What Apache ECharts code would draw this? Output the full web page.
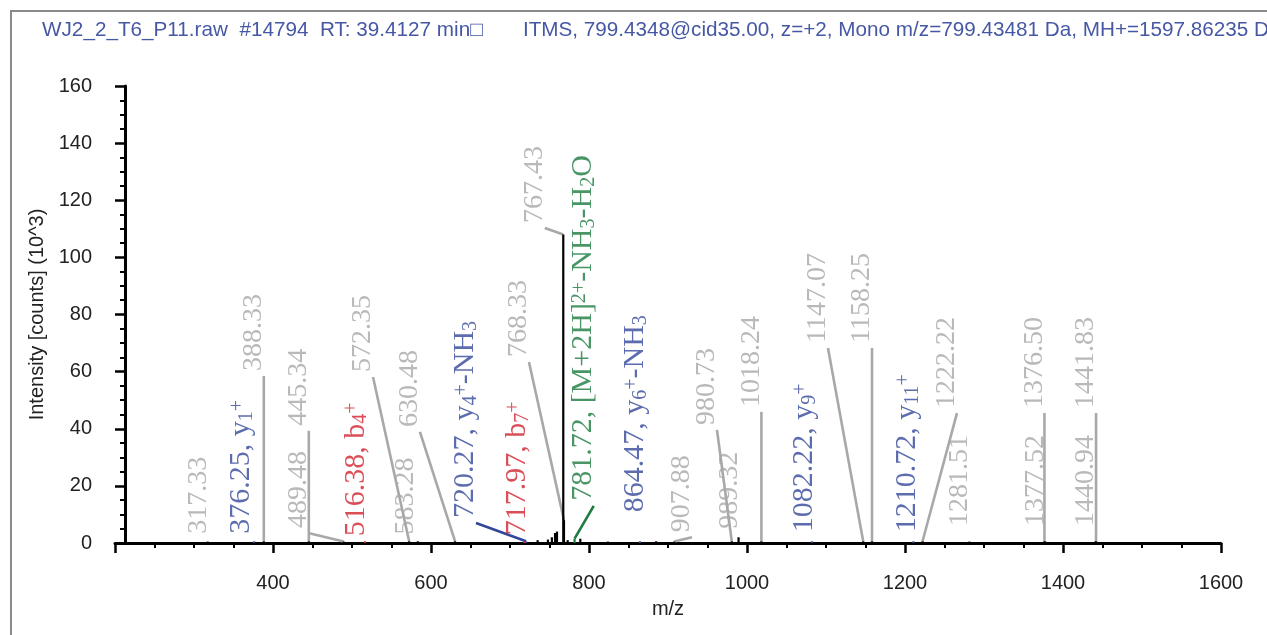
<!DOCTYPE html>
<html>
<head>
<meta charset="utf-8">
<script src="https://cdn.jsdelivr.net/npm/echarts@6/dist/echarts.min.js"></script>
<style>
html,body{margin:0;padding:0;background:#fff;}
#chart{width:1267px;height:635px;}
</style>
</head>
<body>
<div id="chart"></div>
<script>
// ---------- data ----------
const titleText = 'WJ2_2_T6_P11.raw  #14794  RT: 39.4127 min\u25A1       ITMS, 799.4348@cid35.00, z=+2, Mono m/z=799.43481 Da, MH+=1597.86235 Da';
const xAxisTitle = 'm/z';
const yAxisTitle = 'Intensity [counts] (10^3)';

// unlabelled stick peaks (m/z, intensity x10^3)
const otherPeakMz  = [735.0, 748.0, 753.0, 757.0, 759.5, 773.0, 789.0, 824.0, 885.0];
const otherPeakInt = [1.0,   1.2,   2.0,   3.5,   4.0,   1.0,   1.5,   0.5,   0.6];

// annotated peaks
const annText = [
  '317.33',
  '376.25, y{sub|1}{sup|+}',
  '388.33',
  '445.34',
  '489.48',
  '516.38, b{sub|4}{sup|+}',
  '572.35',
  '583.28',
  '630.48',
  '720.27, y{sub|4}{sup|+}-NH{sub|3}',
  '717.97, b{sub|7}{sup|+}',
  '768.33',
  '767.43',
  '781.72, [M+2H]{sup|2+}-NH{sub|3}-H{sub|2}O',
  '864.47, y{sub|6}{sup|+}-NH{sub|3}',
  '907.88',
  '980.73',
  '989.32',
  '1018.24',
  '1082.22, y{sub|9}{sup|+}',
  '1147.07',
  '1158.25',
  '1210.72, y{sub|11}{sup|+}',
  '1222.22',
  '1281.51',
  '1376.50',
  '1377.52',
  '1441.83',
  '1440.94'
];
const annType = ['n','y','n','n','n','b','n','n','n','y','b','n','n','M','y','n','n','n','n','y','n','n','y','n','n','n','n','n','n'];
const annPeakMz  = [317.33, 376.25, 388.33, 445.34, 489.48, 516.38, 572.35, 583.28, 630.48, 720.27, 717.97, 768.33, 767.43, 781.72, 864.47, 907.88, 980.73, 989.32, 1018.24, 1082.22, 1147.07, 1158.25, 1210.72, 1222.22, 1281.51, 1376.50, 1377.52, 1441.83, 1440.94];
const annPeakInt = [0.5,    0.6,    0.6,    0.6,    0.5,    0.6,    0.6,    0.6,    0.6,    0.6,    0.6,    8.0,    108.0,  1.5,    0.6,    0.5,    0.6,    2.0,    0.6,     0.6,     0.6,     0.6,     0.6,     0.6,     0.5,     0.6,     0.5,     0.6,     0.5];
const annLabelMz  = [319.0, 373.0, 388.33, 445.34, 444.5, 518.0, 526.6, 580.0, 586.0, 657.0, 722.0, 724.0, 744.0, 806.0, 872.0, 930.4, 962.0, 991.0, 1018.24, 1086.0, 1102.5, 1158.25, 1216.5, 1265.8, 1282.3, 1376.50, 1377.52, 1441.83, 1440.94];
const annLabelInt = [1.5,   1.5,   58.5,   39.3,   3.5,   0.6,   58.1,  1.2,   38.9,  7.0,   1.0,   63.4,  110.3, 13.0,  9.0,   2.0,   39.6,  3.2,   45.9,    2.0,    68.3,   68.3,    2.0,    45.5,   4.2,    45.5,    4.2,     45.5,    4.2];
const annLeader = [false,false,true,true,true,false,true,false,true,true,false,true,true,true,false,true,true,false,true,false,true,true,false,true,false,true,false,true,false];

// ---------- styles ----------
const typeColor = { n: '#a8a8a8', y: '#33479a', b: '#d2222e', M: '#1c7b3f' };
const peakColor = { n: '#000000', y: '#33479a', b: '#d2222e', M: '#1c7b3f' };
const labelFont = '"Liberation Serif", "Times New Roman", serif';
const sansFont = '"Liberation Sans", Arial, sans-serif';

const sticks = [];
otherPeakMz.forEach((m, i) => sticks.push([m, otherPeakInt[i], '#000000']));
annPeakMz.forEach((m, i) => sticks.push([m, annPeakInt[i], peakColor[annType[i]]]));

const leaders = [];
annPeakMz.forEach((m, i) => {
  if (annLeader[i]) leaders.push([m, annPeakInt[i], annLabelMz[i], annLabelInt[i], typeColor[annType[i]]]);
});

const labelData = annText.map((t, i) => {
  const ion = annType[i] !== 'n';
  return {
    value: [annLabelMz[i], annLabelInt[i]],
    label: { formatter: t, color: typeColor[annType[i]], fontSize: ion ? 30 : 28, lineHeight: ion ? 21 : 20 }
  };
});

const chart = echarts.init(document.getElementById('chart'), null, { renderer: 'canvas' });
chart.setOption({
  animation: false,
  backgroundColor: '#ffffff',
  graphic: [
    { type: 'rect', shape: { x: 11, y: 11, width: 1400, height: 800 }, style: { fill: 'none', stroke: '#8a8a8a', lineWidth: 2 }, silent: true, z: 0 },
    { type: 'text', left: 42, top: 20, style: { text: titleText, font: '20.7px ' + sansFont, fill: '#4658a4' }, z: 10 }
  ],
  grid: { left: 115, right: 46, top: 86, bottom: 92, containLabel: false },
  xAxis: {
    type: 'value', min: 200, max: 1600, interval: 200,
    name: xAxisTitle, nameLocation: 'middle', nameGap: 56,
    nameTextStyle: { fontFamily: sansFont, fontSize: 20, color: '#222' },
    axisLine: { onZero: false, lineStyle: { color: '#000', width: 3 } },
    axisTick: { length: 10, lineStyle: { width: 2.5, color: '#000' } },
    minorTick: { show: true, splitNumber: 4, length: 5, lineStyle: { width: 2, color: '#000' } },
    axisLabel: { fontFamily: sansFont, fontSize: 20, color: '#222', margin: 30, formatter: v => (v === 200 ? '' : String(v)) },
    splitLine: { show: false }, minorSplitLine: { show: false }
  },
  yAxis: {
    type: 'value', min: 0, max: 160, interval: 20, offset: -10,
    name: yAxisTitle, nameLocation: 'middle', nameGap: 70,
    nameTextStyle: { fontFamily: sansFont, fontSize: 20, color: '#222' },
    axisLine: { show: true, lineStyle: { color: '#000', width: 3 } },
    axisTick: { show: true, length: 10, lineStyle: { width: 2.5, color: '#000' } },
    minorTick: { show: true, splitNumber: 4, length: 5, lineStyle: { width: 2, color: '#000' } },
    axisLabel: { fontFamily: sansFont, fontSize: 20, color: '#222', margin: 33 },
    splitLine: { show: false }, minorSplitLine: { show: false }
  },
  series: [
    {
      type: 'custom', name: 'leaders', data: leaders, z: 2,
      encode: { x: [0, 2], y: [1, 3] },
      renderItem: (params, api) => {
        const p0 = api.coord([api.value(0), api.value(1)]);
        const p1 = api.coord([api.value(2), api.value(3)]);
        return { type: 'line', shape: { x1: p0[0], y1: p0[1], x2: p1[0], y2: p1[1] },
          style: { stroke: leaders[params.dataIndex][4], lineWidth: 2.6 } };
      }
    },
    {
      type: 'custom', name: 'peaks', data: sticks, z: 3,
      encode: { x: 0, y: 1 },
      renderItem: (params, api) => {
        const p0 = api.coord([api.value(0), 0]);
        const p1 = api.coord([api.value(0), api.value(1)]);
        return { type: 'line', shape: { x1: p0[0], y1: p0[1], x2: p1[0], y2: p1[1] },
          style: { stroke: sticks[params.dataIndex][2], lineWidth: 2.2 } };
      }
    },
    {
      type: 'scatter', name: 'labels', symbolSize: 0, z: 4,
      data: labelData,
      label: {
        show: true, position: 'inside', rotate: 90, align: 'left', verticalAlign: 'bottom',
        fontFamily: labelFont, fontSize: 28, lineHeight: 20, padding: [0, 0, 0, 5],
        rich: {
          sub: { fontFamily: labelFont, fontSize: 20, height: 10, lineHeight: 10, verticalAlign: 'bottom' },
          sup: { fontFamily: labelFont, fontSize: 20, height: 14, lineHeight: 14, verticalAlign: 'top' }
        }
      },
      emphasis: { disabled: true }
    }
  ]
});
</script>
</body>
</html>
